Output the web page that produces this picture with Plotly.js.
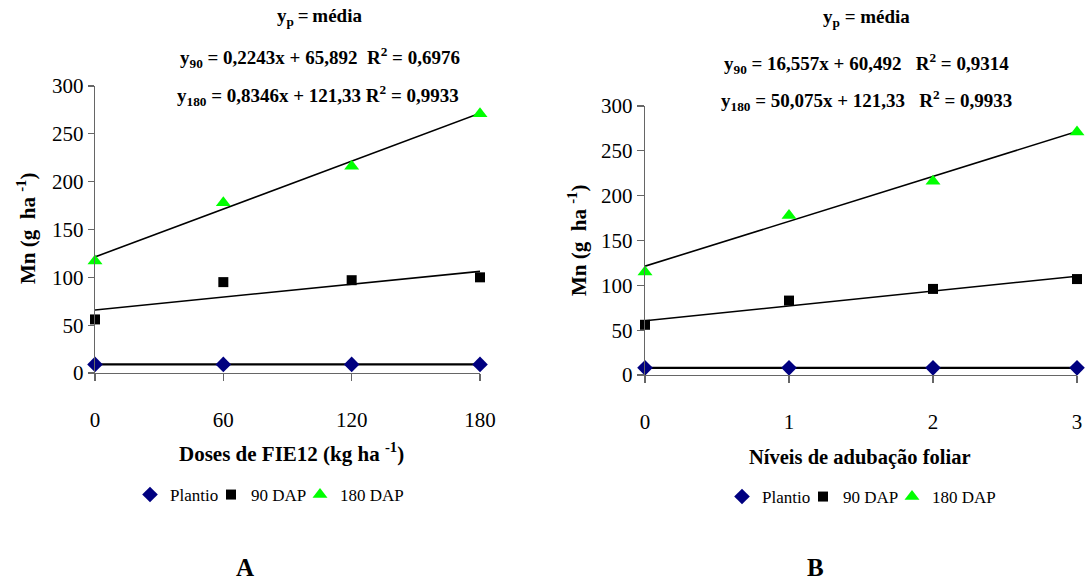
<!DOCTYPE html>
<html><head><meta charset="utf-8">
<script src="https://cdn.plot.ly/plotly-3.0.1.min.js"></script>
<style>html,body{margin:0;padding:0;background:#fff}#c{width:1088px;height:583px}</style>
</head><body><div id="c"></div>
<script>
// Panel A: doses of FIE12
const dosesA = [0, 60, 120, 180];
const plantioA = [9, 9, 9, 9];
const dap90A = [56, 95, 97, 100];
const dap180A = [117, 178, 216, 271];
const coefA90 = [0.2243, 65.892];
const coefA180 = [0.8346, 121.33];

// Panel B: levels of foliar fertilisation
const niveisB = [0, 1, 2, 3];
const plantioB = [8, 8, 8, 8];
const dap90B = [56, 83, 96, 107];
const dap180B = [115, 178, 216, 271];
const coefB90 = [16.557, 60.492];
const coefB180 = [50.075, 121.33];

const serieNames = ['Plantio', '90 DAP', '180 DAP'];
const yTicks = [0, 50, 100, 150, 200, 250, 300];

const FONT = '"Liberation Serif", "Times New Roman", Times, serif';
const mk = [
  {symbol: 'diamond', color: '#000080', size: 12, lw: 36},
  {symbol: 'square', color: '#000000', size: 10, lw: 44},
  {symbol: 'triangle-up', color: '#00ff00', size: 13, lw: 80}
];

function mean(a){return a.reduce((s,v)=>s+v,0)/a.length;}
function fitLine(xs, coef){
  const x0 = xs[0], x1 = xs[xs.length-1];
  return {x:[x0,x1], y:[coef[0]*x0+coef[1], coef[0]*x1+coef[1]]};
}

function panel(xs, series, coefs, xa, ya, leg){
  const tr = [];
  const plantMean = mean(series[0]);
  const lines = [
    {x:[xs[0], xs[xs.length-1]], y:[plantMean, plantMean], w:2.2},
    Object.assign(fitLine(xs, coefs[0]), {w:1.6}),
    Object.assign(fitLine(xs, coefs[1]), {w:1.6})
  ];
  lines.forEach(l=>tr.push({x:l.x, y:l.y, mode:'lines', line:{color:'#000', width:l.w},
    xaxis:xa, yaxis:ya, showlegend:false, hoverinfo:'skip', cliponaxis:false}));
  series.forEach((s,i)=>tr.push({x:xs, y:s, mode:'markers', name:serieNames[i],
    marker:{symbol:mk[i].symbol, color:mk[i].color, size:mk[i].size, line:{width:0}},
    legendwidth:mk[i].lw,
    xaxis:xa, yaxis:ya, legend:leg, cliponaxis:false}));
  return tr;
}

const data = [].concat(
  panel(dosesA, [plantioA, dap90A, dap180A], [coefA90, coefA180], 'x', 'y', 'legend'),
  panel(niveisB, [plantioB, dap90B, dap180B], [coefB90, coefB180], 'x2', 'y2', 'legend2')
);

const axCommon = {showline:true, linecolor:'#666', linewidth:1.3, ticks:'outside', tickcolor:'#666',
  tickwidth:1.3, showgrid:false, zeroline:false, tickfont:{family:FONT, size:21, color:'#000'}};

const legCommon = {orientation:'h', font:{family:FONT, size:17, color:'#000'}, xanchor:'left', yanchor:'middle',
  itemwidth:30, tracegroupgap:0, entrywidthmode:'pixels', bgcolor:'rgba(0,0,0,0)'};

function ann(x, y, text, size, extra){
  return Object.assign({xref:'paper', yref:'paper', x:x/1088, y:1-y/583, xanchor:'center', yanchor:'middle',
    showarrow:false, text:text, font:{family:FONT, size:size||19, color:'#000'}}, extra||{});
}
const T = '\u2009';

const layout = {
  width:1088, height:583, margin:{l:0, r:0, t:0, b:0}, paper_bgcolor:'#fff', plot_bgcolor:'rgba(0,0,0,0)',
  font:{family:FONT, color:'#000'},
  showlegend:true,
  xaxis: Object.assign({}, axCommon, {domain:[95/1088, 480/1088], range:[0,180], tickvals:dosesA, ticklen:7,
    ticklabelstandoff:20, anchor:'y'}),
  yaxis: Object.assign({}, axCommon, {domain:[1-373/583, 1-86/583], range:[0,300], tickvals:yTicks, ticklen:6, anchor:'x'}),
  xaxis2: Object.assign({}, axCommon, {domain:[645/1088, 1077/1088], range:[0,3], tickvals:niveisB, ticklen:7,
    ticklabelstandoff:20, anchor:'y2'}),
  yaxis2: Object.assign({}, axCommon, {domain:[1-375/583, 1-106/583], range:[0,300], tickvals:yTicks, ticklen:7, anchor:'x2'}),
  legend: Object.assign({}, legCommon, {x:130/1088, y:1-495/583}),
  legend2: Object.assign({}, legCommon, {x:722/1088, y:1-497/583}),
  annotations: [
    ann(319, 17, '<b>y<sub>p</sub>'+T+'='+T+'média</b>'),
    ann(320, 57, '<b>y<sub>90</sub> = 0,2243x + 65,892  R<sup>2</sup> = 0,6976</b>'),
    ann(318, 95, '<b>y<sub>180</sub> = 0,8346x + 121,33 R<sup>2</sup> = 0,9933</b>'),
    ann(866, 18, '<b>y<sub>p</sub> = média</b>'),
    ann(866, 63, '<b>y<sub>90</sub> = 16,557x + 60,492   R<sup>2</sup> = 0,9314</b>'),
    ann(866, 100, '<b>y<sub>180</sub> = 50,075x + 121,33   R<sup>2</sup> = 0,9933</b>'),
    ann(26, 229, '<b>Mn (g  ha <sup>-1</sup>)</b>', 21, {textangle:-90}),
    ann(577, 241, '<b>Mn (g  ha <sup>-1</sup>)</b>', 21, {textangle:-90}),
    ann(291, 452, '<b>Doses de FIE12 (kg ha <sup>-1</sup>)</b>', 21),
    ann(860, 457, '<b>Níveis de adubação foliar</b>', 20.5),
    ann(245, 567, '<b>A</b>', 25),
    ann(815, 567, '<b>B</b>', 25)
  ]
};

Plotly.newPlot('c', data, layout, {staticPlot:true, displayModeBar:false});
</script>
</body></html>
